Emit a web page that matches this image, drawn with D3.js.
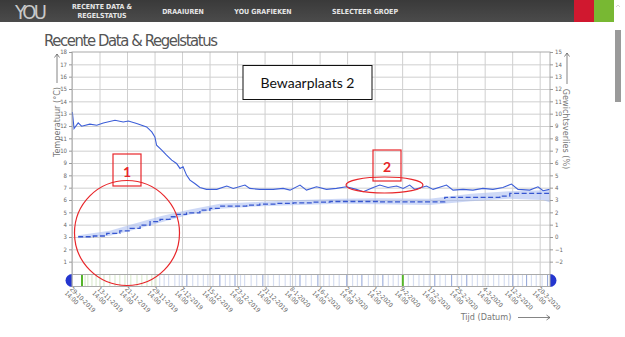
<!DOCTYPE html>
<html><head><meta charset="utf-8">
<title>Recente Data & Regelstatus</title>
<script src="https://cdn.jsdelivr.net/npm/d3@7"></script>
<style>
  body { margin: 0; background: #fff; overflow: hidden; }
  svg { display: block; }
  text { font-family: "Liberation Sans Narrow", "DejaVu Sans Condensed", sans-serif; }
  .grid line { stroke: #cfcfcf; }
  .grid .domain { stroke: none; }
  .axis text { fill: #666; font-size: 6px; }
  .axis line { stroke: #999; }
  .axis .domain { stroke: none; }
</style>
</head>
<body>
<svg id="chart" width="625" height="337"></svg>
<script>

// ---- data (days counted from first tick, 8 days per tick) ----
const tickLabels = ["29-10-2019","13-11-2019","21-11-2019","29-11-2019","7-12-2019","15-12-2019",
  "23-12-2019","31-12-2019","8-1-2020","16-1-2020","24-1-2020","1-2-2020","9-2-2020","17-2-2020",
  "25-2-2020","4-3-2020","12-3-2020","20-3-2020"];
const tickTime = "14:00";

// temperature (left axis, °C)
const tempDays = [0.1,0.6,1.8,2.8,5.2,7.2,9.1,12.5,14.9,16.4,18.8,21.7,23.2,24.1,24.6,26.1,27.5,29.0,
  30.4,31.4,32.3,33.3,34.3,35.7,37.2,39.1,42.1,45.0,46.9,50.3,51.7,54.6,58.5,61.4,63.4,66.3,68.2,
  71.1,74.0,76.9,79.8,82.7,84.7,87.6,89.5,91.9,94.4,96.3,98.2,99.7,103.1,105.0,108.9,110.8,113.7,
  116.6,119.5,122.4,125.3,127.8,129.7,133.1,135.5,137.0,138.9];
const tempValues = [13.14,11.8,12.25,11.98,12.15,12.06,12.25,12.47,12.33,12.41,12.2,11.93,11.52,11.12,
  10.44,10.04,9.64,9.23,8.96,8.56,8.69,8.02,7.61,7.34,7.02,6.86,6.86,7.13,6.94,7.21,6.94,6.86,6.86,
  6.94,6.8,7.21,6.8,7.07,6.86,6.94,7.07,6.86,6.67,7.02,7.21,7.02,7.13,6.94,7.21,6.86,7.13,6.86,7.21,
  6.8,6.86,6.8,6.94,6.86,7.02,7.29,6.86,6.8,7.07,6.75,6.86];

// weight loss (right axis, %)
const lossDays = [1.8,6.2,10.1,13.9,16.9,19.8,22.7,25.6,28.5,30.4,33.3,37.2,40.1,43.0,46.9,50.8,54.6,
  59.5,64.3,70.1,75.0,89.5,104.0,108.4,124.4,127.3,138.9];
const lossValues = [0.02,0.08,0.3,0.5,0.7,0.97,1.24,1.43,1.64,1.83,1.96,2.18,2.32,2.5,2.5,2.59,2.67,
  2.72,2.77,2.83,2.88,2.85,2.85,3.21,3.32,3.53,3.58];

// spread band around weight loss
const bandDays = [1.8,11,17,26,34,43,55,66,78,89,104,116,127,137,139];
const bandLow  = [-0.1,0.1,0.5,1.2,1.8,2.3,2.5,2.6,2.7,2.65,2.6,2.9,3.1,3.0,2.8];
const bandHigh = [0.15,0.5,1.0,1.7,2.2,2.7,2.85,3.0,3.1,3.15,3.1,3.5,3.7,3.8,3.8];

// status strip events
const stripGreen = [2.9, 96.2];
const stripBlue = [33.4,43.0,47.4,55.5,66.3,71.5,79.9,84.3,90.4,105.5,110.4,114.8,128.2,132.2,138.3];
const stripFaintGreen = [3.8,4.6,5.8,7.0,8.1,9.3,11.0,12.5,13.9,15.4,17.1,18.9,20.3,21.8,23.2,24.4];
const stripFaintBlue = [25.5,26.8,28.1,29.9,31.2,32.0,35.1,36.6,38.2,39.5,41.0,44.6,45.9,49.0,50.2,
  52.1,53.7,57.0,58.6,60.3,62.0,63.5,65.0,68.0,69.6,73.2,74.8,76.1,77.7,81.6,83.0,86.2,87.7,89.0,
  92.0,93.4,94.9,97.8,99.3,100.9,102.3,103.9,107.0,108.6,112.0,113.3,116.4,117.9,119.5,121.0,
  122.6,124.1,125.7,127.0,129.7,131.0,133.6,135.0,136.7];

const menuItems = [["RECENTE DATA &","REGELSTATUS"],["DRAAIUREN"],["YOU GRAFIEKEN"],["SELECTEER GROEP"]];
const menuCenters = [102, 183, 263, 365];

// ---- layout ----
const svg = d3.select("#chart");
const plot = {left: 72, right: 550, top: 52, bottom: 274};
const stripTop = 274.5, stripBottom = 286.5;

const x = d3.scaleLinear().domain([0, 139]).range([plot.left, plot.right]);
const yL = d3.scaleLinear().domain([0, 18]).range([plot.bottom, plot.top]);
const yR = d3.scaleLinear().domain([-3, 15]).range([plot.bottom, plot.top]);
const tickDays = tickLabels.map((d, i) => i * 8);

// ---- header ----
const grad = svg.append("defs").append("linearGradient").attr("id", "hdr")
  .attr("x1", 0).attr("x2", 0).attr("y1", 0).attr("y2", 1);
grad.append("stop").attr("offset", "0%").attr("stop-color", "#3a3a3a");
grad.append("stop").attr("offset", "100%").attr("stop-color", "#4b4b4b");
svg.append("rect").attr("x", 0).attr("y", 0).attr("width", 614).attr("height", 22).attr("fill", "url(#hdr)");
svg.append("rect").attr("x", 574).attr("y", 0).attr("width", 20).attr("height", 22).attr("fill", "#d0182f");
svg.append("rect").attr("x", 594).attr("y", 0).attr("width", 20).attr("height", 22).attr("fill", "#78b833");
svg.append("text").attr("x", 15).attr("y", 18.5).text("YOU")
  .attr("fill", "#c9c9c9").style("font-size", "20px").attr("textLength", 32);
menuItems.forEach((lines, i) => {
  const t = svg.append("text").attr("text-anchor", "middle").attr("fill", "#e6e6e6")
    .style("font-size", "7px").style("font-weight", "bold");
  lines.forEach((l, j) => {
    t.append("tspan").attr("x", menuCenters[i])
      .attr("y", lines.length == 2 ? 9 + j * 9 : 13.5).text(l);
  });
});
// scrollbar
svg.append("rect").attr("x", 615).attr("y", 30).attr("width", 6).attr("height", 72).attr("fill", "#9a9a9a");
svg.append("path").attr("d", "M616,7 L618,5 L620,7").attr("fill", "none").attr("stroke", "#bbb").attr("stroke-width", 0.6);

// ---- title ----
svg.append("text").attr("x", 44).attr("y", 45.5).text("Recente Data & Regelstatus")
  .attr("fill", "#555").style("font-size", "16.5px").attr("textLength", 174);

// ---- gridlines ----
svg.append("g").attr("class", "grid")
  .attr("transform", "translate(" + plot.left + ",0)")
  .call(d3.axisLeft(yL).tickValues(d3.range(1, 18)).tickSize(-(plot.right - plot.left)).tickFormat(""));
svg.append("g").attr("class", "grid")
  .attr("transform", "translate(0," + stripBottom + ")")
  .call(d3.axisBottom(x).tickValues(tickDays).tickSize(-(stripBottom - plot.top)).tickFormat(""));

// ---- band, lines ----
const bandData = bandDays.map((d, i) => [d, bandLow[i], bandHigh[i]]);
svg.append("path").datum(bandData)
  .attr("d", d3.area().x(d => x(d[0])).y0(d => yR(d[1])).y1(d => yR(d[2])))
  .attr("fill", "#a6baf0").attr("opacity", 0.55);

svg.append("path").datum(lossDays.map((d, i) => [d, lossValues[i]]))
  .attr("d", d3.line().x(d => x(d[0])).y(d => yR(d[1])).curve(d3.curveStepAfter))
  .attr("fill", "none").attr("stroke", "#3656d0").attr("stroke-width", 1.3).attr("stroke-dasharray", "5,2.5");

svg.append("path").datum(tempDays.map((d, i) => [d, tempValues[i]]))
  .attr("d", d3.line().x(d => x(d[0])).y(d => yL(d[1])))
  .attr("fill", "none").attr("stroke", "#3c5ed8").attr("stroke-width", 1.1);

// ---- status strip ----
const strip = svg.append("g");
const stripLine = (days, color, w) => strip.selectAll(null).data(days).enter().append("line")
  .attr("x1", d => x(d)).attr("x2", d => x(d))
  .attr("y1", stripTop).attr("y2", stripBottom)
  .attr("stroke", color).attr("stroke-width", w);
stripLine(stripFaintGreen, "#dcebd0", 1.2);
stripLine(stripFaintBlue, "#d6def1", 1.2);
stripLine(stripBlue, "#8ea2d6", 1);
stripLine(stripGreen, "#55b52a", 2);
svg.append("line").attr("x1", plot.left).attr("x2", plot.right).attr("y1", stripTop).attr("y2", stripTop).attr("stroke", "#aaa");
svg.append("line").attr("x1", plot.left).attr("x2", plot.right).attr("y1", stripBottom).attr("y2", stripBottom).attr("stroke", "#aaa");
const mid = (stripTop + stripBottom) / 2;
svg.append("path").attr("d", d3.arc()({innerRadius: 0, outerRadius: 6.5, startAngle: Math.PI, endAngle: 2 * Math.PI}))
  .attr("transform", "translate(" + plot.left + "," + mid + ")").attr("fill", "#2436cf");
svg.append("path").attr("d", d3.arc()({innerRadius: 0, outerRadius: 6.5, startAngle: 0, endAngle: Math.PI}))
  .attr("transform", "translate(" + plot.right + "," + mid + ")").attr("fill", "#2436cf");

// ---- plot frame ----
svg.append("rect").attr("x", plot.left).attr("y", plot.top)
  .attr("width", plot.right - plot.left).attr("height", stripBottom - plot.top)
  .attr("fill", "none").attr("stroke", "#aaa");

// ---- axes ----
svg.append("g").attr("class", "axis").attr("transform", "translate(" + plot.left + ",0)")
  .call(d3.axisLeft(yL).tickValues(d3.range(1, 19)).tickSize(3).tickPadding(2));
svg.append("g").attr("class", "axis").attr("transform", "translate(" + plot.right + ",0)")
  .call(d3.axisRight(yR).tickValues(d3.range(-2, 16)).tickSize(3).tickPadding(2));

const xAxis = svg.append("g").attr("class", "axis")
  .attr("transform", "translate(0," + stripBottom + ")")
  .call(d3.axisBottom(x).tickValues(tickDays).tickSize(0).tickFormat((d, i) => tickLabels[i]));
xAxis.selectAll(".tick text").each(function (d, i) {
  const t = d3.select(this);
  t.text(null).attr("text-anchor", "start").attr("y", 0).attr("dy", null)
    .attr("transform", "translate(-3,3) rotate(45)").style("font-size", "6.3px");
  t.append("tspan").attr("x", 0).attr("y", 0).text(tickLabels[i]);
  t.append("tspan").attr("x", -1).attr("y", 6.5).text(tickTime);
});

// ---- axis titles with arrows ----
const arrowStyle = s => s.attr("fill", "none").attr("stroke", "#666").attr("stroke-width", 0.8);
svg.append("path").attr("d", "M57,83 L57,54 M54.5,57.5 L57,54 L59.5,57.5").call(arrowStyle);
svg.append("text").attr("transform", "translate(60,122) rotate(-90)").attr("text-anchor", "middle")
  .attr("fill", "#777").style("font-size", "9px").text("Temperatuur (°C)");
svg.append("path").attr("d", "M567,84 L567,53 M564.5,56.5 L567,53 L569.5,56.5").call(arrowStyle);
svg.append("text").attr("transform", "translate(563,129) rotate(90)").attr("text-anchor", "middle")
  .attr("fill", "#777").style("font-size", "9px").text("Gewichtsverlies (%)");
svg.append("text").attr("x", 486).attr("y", 320).attr("text-anchor", "middle")
  .attr("fill", "#777").style("font-size", "9px").text("Tijd (Datum)");
svg.append("path").attr("d", "M518,317.5 L550,317.5 M546.5,315 L550,317.5 L546.5,320").call(arrowStyle);

// ---- annotations ----
svg.append("rect").attr("x", 243).attr("y", 65.5).attr("width", 129).attr("height", 34)
  .attr("fill", "#fff").attr("stroke", "#111").attr("stroke-width", 1);
svg.append("text").attr("x", 307.5).attr("y", 87.5).attr("text-anchor", "middle")
  .style("font-family", "Lato, sans-serif").style("font-size", "14px").attr("fill", "#111")
  .text("Bewaarplaats 2");

const red = "#e8262a";
svg.append("rect").attr("x", 113).attr("y", 154).attr("width", 28).attr("height", 32)
  .attr("fill", "none").attr("stroke", red).attr("stroke-width", 1.2);
svg.append("text").attr("x", 127).attr("y", 177).attr("text-anchor", "middle")
  .style("font-family", "Lato, sans-serif").style("font-size", "14px").style("font-weight", "bold")
  .attr("fill", red).text("1");
svg.append("circle").attr("cx", 127).attr("cy", 233).attr("r", 52.5)
  .attr("fill", "none").attr("stroke", red).attr("stroke-width", 1.2);

svg.append("rect").attr("x", 373).attr("y", 150).attr("width", 28).attr("height", 31)
  .attr("fill", "none").attr("stroke", red).attr("stroke-width", 1.2);
svg.append("text").attr("x", 387).attr("y", 172).attr("text-anchor", "middle")
  .style("font-family", "Lato, sans-serif").style("font-size", "14px").style("font-weight", "bold")
  .attr("fill", red).text("2");
svg.append("ellipse").attr("cx", 384.5).attr("cy", 185).attr("rx", 38.5).attr("ry", 8)
  .attr("fill", "none").attr("stroke", red).attr("stroke-width", 1.2);

</script>
</body>
</html>
